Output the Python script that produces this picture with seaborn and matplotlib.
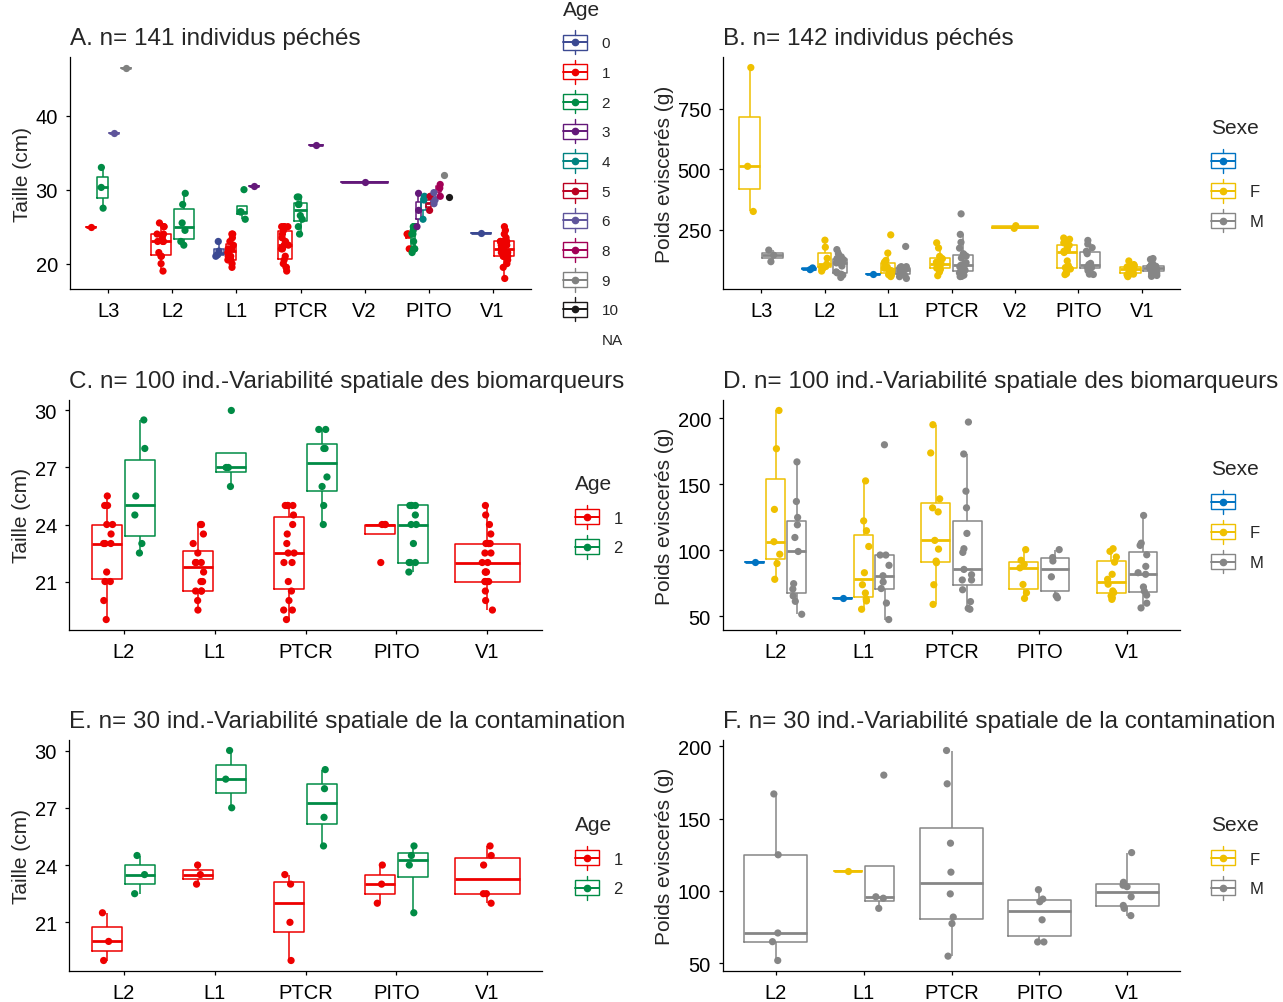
import numpy as np
import pandas as pd
import matplotlib
matplotlib.use("Agg")
import matplotlib.pyplot as plt
import seaborn as sns
from matplotlib.legend_handler import HandlerBase
from matplotlib.lines import Line2D
from matplotlib.patches import Rectangle

# ---------------------------------------------------------------- data
SITES_ALL = ["L3", "L2", "L1", "PTCR", "V2", "PITO", "V1"]
SITES_BIO = ["L2", "L1", "PTCR", "PITO", "V1"]

AGE_LEVELS = ["0", "1", "2", "3", "4", "5", "6", "8", "9", "10"]
AGE_COLORS = ["#3B4992", "#EE0000", "#008B45", "#631879", "#008280",
              "#BB0021", "#5F559B", "#A20056", "#808180", "#1B1919"]
SEXE_LEVELS = ["", "F", "M"]
SEXE_COLORS = ["#0073C2", "#EFC000", "#868686"]

# Taille (cm) - biomarker subset (panel C)
c_age1 = {
    "L2": [19, 20, 21, 21, 21.5, 23, 23, 23, 23.5, 24, 24, 25, 25, 25.5],
    "L1": [19.5, 20, 20.5, 20.5, 20.5, 21, 21, 21.5, 22, 22, 22, 22.5, 23, 23.5, 24, 24],
    "PTCR": [19, 19.5, 19.5, 20, 20.5, 21, 22, 22, 22.5, 22.5, 23, 23.5, 24, 24.5, 25, 25, 25, 25],
    "PITO": [22, 24, 24, 24],
    "V1": [19.5, 20, 20.5, 21, 21, 21, 21, 21.5, 21.5, 21.5, 22, 22, 22.5, 22.5,
           23, 23, 23, 23, 23.5, 24, 24.5, 25],
}
c_age2 = {
    "L2": [22.5, 23, 24.5, 25.5, 28, 29.5],
    "L1": [26, 27, 27, 30],
    "PTCR": [24, 25, 26, 26.5, 28, 28, 29, 29],
    "PITO": [21.5, 22, 22, 22, 23, 24, 24, 24.5, 25, 25, 25, 25],
}

# Taille (cm) - fish only present in panel A
a_age0 = {"L1": [21, 21.2, 21.7, 23], "V1": [24.1]}
a_age1_extra = {"L3": [25], "V1": [18]}
a_age2_extra = {"L3": [27.5, 30.3, 33]}
a_age3 = {"L1": [30.5], "PTCR": [36], "V2": [31.1], "PITO": [25, 27.2, 29.5]}
a_age4 = {"PITO": [26, 28.6, 29.1]}
a_age5 = {"PITO": [27.2, 29.1]}
a_age6 = {"L3": [37.6], "PITO": [28.1, 28.6, 29.6]}
a_age8 = {"PITO": [29.1, 30.2, 30.7]}
a_age9 = {"L3": [46.5], "PITO": [32]}
a_age10 = {"PITO": [29]}

# Taille (cm) - contamination subset (panel E)
e_age1 = {"L2": [19, 20, 21.5], "L1": [23, 23.5, 24], "PTCR": [19, 21, 23, 23.5],
          "PITO": [22, 23, 24], "V1": [22, 22.5, 22.5, 24, 24.5, 25]}
e_age2 = {"L2": [22.5, 23.5, 24.5], "L1": [27, 28.5, 30], "PTCR": [25, 26.5, 28, 29],
          "PITO": [21.5, 24, 24.5, 25]}

# Poids eviscérés (g) - biomarker subset (panel D)
d_na = {"L2": [91], "L1": [64]}
d_f = {
    "L2": [78, 90, 97, 106.5, 131, 177, 206],
    "L1": [55.3, 61.6, 63.1, 67.6, 73.9, 83, 102.9, 114.8, 122.3, 152.6],
    "PTCR": [59, 73.9, 90.6, 91.8, 100.9, 107.5, 129.1, 132.2, 139, 173.8, 195.2],
    "PITO": [63.5, 67.8, 74.1, 86.7, 89.2, 92.4, 100.5],
    "V1": [62.8, 64.1, 65.4, 67.9, 69.2, 74.3, 78, 81.8, 91, 94.9, 99.2, 101.2],
}
d_m = {
    "L2": [51.5, 61.3, 65.4, 70.6, 74.7, 99.1, 109.7, 119.3, 124.9, 137, 167],
    "L1": [47.5, 60, 71, 76, 80.7, 88.6, 96.4, 96.4, 180],
    "PTCR": [55.3, 56, 61.1, 70.1, 77.5, 77.5, 81.5, 85.5, 98.4, 101.2, 112.8,
             132.2, 144.8, 173, 197.2],
    "PITO": [64, 65.5, 79.9, 91.9, 94.5, 100.5],
    "V1": [56.3, 59.9, 66, 69, 72.2, 81.8, 83, 87.8, 96.6, 103.7, 105.4, 126.4],
}

# Poids eviscérés (g) - fish only present in panel B
b_na_extra = {"L2": [84]}
b_f_extra = {"L3": [325, 512, 921], "L1": [228, 90, 95, 80], "PTCR": [115, 85],
             "V2": [255, 266],
             "PITO": [215, 210, 205, 195, 185, 175, 165, 160, 155, 120],
             "V1": [120, 95, 90, 88, 85, 100, 105, 55]}
b_m_extra = {"L3": [117, 144, 165], "L2": [112, 130, 150], "L1": [65, 85, 92, 55],
             "PTCR": [315, 230, 140, 110, 105, 95, 150],
             "PITO": [205, 190, 175, 160, 150, 110, 105, 95],
             "V1": [130, 100, 95, 90, 92, 110, 85, 98]}

# Poids eviscérés (g) - contamination subset (panel F)
f_f = {"L1": [114]}
f_m = {"L2": [52, 65, 71, 125, 167], "L1": [88, 95, 96, 180],
       "PTCR": [55, 77.5, 82, 98, 113, 133, 174, 197],
       "PITO": [64.8, 64.8, 80.1, 92.6, 94.4, 100.9],
       "V1": [83, 88, 90, 96, 103, 104, 106, 126.5]}


def merge(*dicts):
    out = {}
    for d in dicts:
        for k, v in d.items():
            out.setdefault(k, []).extend(v)
    return out


def frame(groups, value, hue):
    rows = [(site, level, v) for level, by_site in groups
            for site, vals in by_site.items() for v in vals]
    return pd.DataFrame(rows, columns=["site", hue, value])


df_a = frame([("0", a_age0), ("1", merge(c_age1, a_age1_extra)),
              ("2", merge(c_age2, a_age2_extra)), ("3", a_age3), ("4", a_age4),
              ("5", a_age5), ("6", a_age6), ("8", a_age8), ("9", a_age9),
              ("10", a_age10)], "Taille", "Age")
df_b = frame([("", merge(d_na, b_na_extra)), ("F", merge(d_f, b_f_extra)),
              ("M", merge(d_m, b_m_extra))], "Poids", "Sexe")
df_c = frame([("1", c_age1), ("2", c_age2)], "Taille", "Age")
df_d = frame([("", d_na), ("F", d_f), ("M", d_m)], "Poids", "Sexe")
df_e = frame([("1", e_age1), ("2", e_age2)], "Taille", "Age")
df_f = frame([("F", f_f), ("M", f_m)], "Poids", "Sexe")


# ---------------------------------------------------------------- style
sns.set_theme(style="ticks")
plt.rcParams["font.family"] = ["Liberation Sans", "DejaVu Sans"]
plt.rcParams["axes.edgecolor"] = "black"
plt.rcParams["axes.linewidth"] = 0.9

W, H = 1283, 1003
fig = plt.figure(figsize=(W / 100, H / 100), dpi=100)


def px_axes(left, right, top, bottom):
    return fig.add_axes([left / W, 1 - bottom / H, (right - left) / W, (bottom - top) / H])


class BoxKey(HandlerBase):
    # ggplot-like boxplot legend key
    def create_artists(self, legend, orig_handle, xdescent, ydescent,
                       width, height, fontsize, trans):
        col = orig_handle.get_color()
        x0, cx, cy = -xdescent, width / 2 - xdescent, height / 2 - ydescent
        bh, wh = 10.8, 8.6
        rect = Rectangle((x0, cy - bh / 2), width, bh, fill=False, ec=col, lw=1.0,
                         transform=trans)
        w1 = Line2D([cx, cx], [cy - wh, cy - bh / 2], color=col, lw=1.0, transform=trans)
        w2 = Line2D([cx, cx], [cy + bh / 2, cy + wh], color=col, lw=1.0, transform=trans)
        med = Line2D([x0, x0 + width], [cy, cy], color=col, lw=1.4, transform=trans)
        pt = Line2D([cx], [cy], marker="o", ms=4.5, color=col, ls="", transform=trans)
        return [rect, w1, w2, med, pt]


def panel(ax, df, y, hue, levels, colors, sites, title, ylabel, yticks):
    pal = dict(zip(levels, colors))
    for i, site in enumerate(sites):
        sub = df[df["site"] == site]
        present = [l for l in levels if (sub[hue] == l).any()]
        n = len(present)
        slot = 0.72 / n
        pos = {l: i - 0.36 + slot * (k + 0.5) for k, l in enumerate(present)}
        sub = sub.assign(xpos=sub[hue].map(pos))
        unit = slot if n > 1 else 1.0
        box_w = slot * 0.9 if n > 1 else 0.72
        sns.boxplot(data=sub, x="xpos", y=y, hue=hue, hue_order=present, palette=pal,
                    native_scale=True, dodge=False, fill=False, width=box_w / unit,
                    linewidth=1.1, showcaps=False, showfliers=False, legend=False,
                    medianprops=dict(linewidth=2.0), ax=ax)
        jit = min(0.06, slot * 0.3)
        sns.stripplot(data=sub, x="xpos", y=y, hue=hue, hue_order=present, palette=pal,
                      native_scale=True, dodge=False, jitter=jit / unit, size=5.2,
                      linewidth=0, legend=False, ax=ax, zorder=3)
    lo, hi = df[y].min(), df[y].max()
    pad = 0.05 * (hi - lo)
    ax.set_ylim(lo - pad, hi + pad)
    ax.set_xlim(-0.6, len(sites) - 1 + 0.6)
    ax.set_xticks(range(len(sites)), sites)
    ax.set_yticks(yticks)
    ax.set_xlabel("")
    ax.set_ylabel(ylabel, fontsize=15, labelpad=2.5)
    ax.set_title(title, loc="left", fontsize=17.5, pad=9)
    ax.tick_params(length=3.2, width=0.9, labelsize=14.5, pad=5.5, colors="black")
    sns.despine(ax=ax)


def legend(ax, title, levels, colors, x, y, fs=12, pitch=30):
    fs_px = fs / 0.72
    handles = [Line2D([], [], color=c) for c in colors]
    leg = ax.legend(handles, levels, title=title, loc="upper left",
                    bbox_to_anchor=(x / W, 1 - y / H), bbox_transform=fig.transFigure,
                    frameon=False, borderpad=0, borderaxespad=0, fontsize=fs,
                    title_fontsize=15, handlelength=17.3 / fs, handleheight=1.25,
                    labelspacing=(pitch - 1.07 * fs_px) / fs_px,
                    handletextpad=10.5 / fs, alignment="left",
                    handler_map={Line2D: BoxKey()})
    # gap between legend title and the first key (points)
    leg._legend_box.sep = 10.9
    return leg


ax_a = px_axes(70, 531, 58, 290)
ax_b = px_axes(723, 1180, 58, 290)
ax_c = px_axes(69, 542, 401, 631)
ax_d = px_axes(723, 1180, 401, 631)
ax_e = px_axes(69, 542, 741, 972)
ax_f = px_axes(723, 1180, 741, 972)

panel(ax_a, df_a, "Taille", "Age", AGE_LEVELS, AGE_COLORS, SITES_ALL,
      "A. n= 141 individus péchés", "Taille (cm)", [20, 30, 40])
panel(ax_b, df_b, "Poids", "Sexe", SEXE_LEVELS, SEXE_COLORS, SITES_ALL,
      "B. n= 142 individus péchés", "Poids eviscerés (g)", [250, 500, 750])
panel(ax_c, df_c, "Taille", "Age", AGE_LEVELS[1:3], AGE_COLORS[1:3], SITES_BIO,
      "C. n= 100 ind.-Variabilité spatiale des biomarqueurs", "Taille (cm)", [21, 24, 27, 30])
panel(ax_d, df_d, "Poids", "Sexe", SEXE_LEVELS, SEXE_COLORS, SITES_BIO,
      "D. n= 100 ind.-Variabilité spatiale des biomarqueurs", "Poids eviscerés (g)",
      [50, 100, 150, 200])
panel(ax_e, df_e, "Taille", "Age", AGE_LEVELS[1:3], AGE_COLORS[1:3], SITES_BIO,
      "E. n= 30 ind.-Variabilité spatiale de la contamination", "Taille (cm)", [21, 24, 27, 30])
panel(ax_f, df_f, "Poids", "Sexe", SEXE_LEVELS[1:], SEXE_COLORS[1:], SITES_BIO,
      "F. n= 30 ind.-Variabilité spatiale de la contamination", "Poids eviscerés (g)",
      [50, 100, 150, 200])

legend(ax_a, "Age", AGE_LEVELS + ["NA"], AGE_COLORS + ["none"], 563, 1, fs=11, pitch=29.8)
legend(ax_b, "Sexe", SEXE_LEVELS, SEXE_COLORS, 1211, 119)
legend(ax_c, "Age", AGE_LEVELS[1:3], AGE_COLORS[1:3], 575, 475)
legend(ax_d, "Sexe", SEXE_LEVELS, SEXE_COLORS, 1211, 460)
legend(ax_e, "Age", AGE_LEVELS[1:3], AGE_COLORS[1:3], 575, 816)
legend(ax_f, "Sexe", SEXE_LEVELS[1:], SEXE_COLORS[1:], 1211, 816)

np.random.seed(3)
fig.savefig("out.png", dpi=100)
